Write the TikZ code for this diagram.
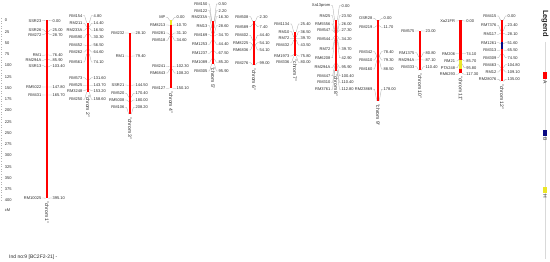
\documentclass[tikz,border=0pt]{standalone}
\usepackage{fontspec}
\setmainfont{Liberation Sans}
\definecolor{hyel}{RGB}{235,230,40}
\definecolor{bnavy}{RGB}{10,10,130}
\definecolor{txt}{RGB}{40,40,40}
\newcount\mkcnt
\tikzset{
  mlab/.style={font=\fontsize{4}{4.5}\selectfont, text=txt, inner sep=0.3pt},
  clab/.style={font=\fontsize{5}{6}\selectfont, text=txt, inner sep=0.3pt, rotate=-90, anchor=west},
  alab/.style={font=\fontsize{4}{4.5}\selectfont, text=txt, inner sep=0.3pt, anchor=west},
  con/.style={draw=gray!70, line width=0.3pt},
  leglab/.style={font=\fontsize{5}{6}\selectfont, text=txt, rotate=-90, anchor=west, inner sep=0pt},
}
\newcommand\mk[4]{%
  \global\advance\mkcnt by 1
  \edef\mkid{m\the\mkcnt}%
  \node[mlab,anchor=east] (\mkid n) at ({#1-5.2},#4) {#2};
  \node[mlab,anchor=west] (\mkid v) at ({#1+5.2},#4) {#3};
  \draw[con] (\mkid n.east) -- ({#1-3.4},#4) -- ({#1-1.3},{20.5+0.45*#3});
  \draw[con] (\mkid v.west) -- ({#1+3.4},#4) -- ({#1+1.3},{20.5+0.45*#3});
}
\newcommand\chrbar[4]{%
  \fill[red] ({#1-1.3},#2) rectangle ({#1+1.3},#3);
  \node[clab] (c#4) at (#1,{#3+3}) {"chrom #4"};
}
\begin{document}
\begin{tikzpicture}[x=1pt,y=-1pt]
\useasboundingbox (0,0) rectangle (550,262);
% axis
\draw[gray!60, line width=0.6pt, dotted] (1.5,18) -- (1.5,201);
\foreach \v in {0,25,...,400} \node[alab] (ax\v) at (4.5,{20.5+0.45*\v}) {\v};
\node[alab] (cm) at (4.5,210) {cM};
% chr1
\chrbar{47}{20.5}{198.3}{1}
\mk{47}{SSR23}{0.00}{20.7}
\mk{47}{SSR26}{25.00}{29.7}
\mk{47}{RM272}{28.70}{34.7}
\mk{47}{RM1}{76.40}{55.3}
\mk{47}{RM294A}{85.90}{60.3}
\mk{47}{SSR13}{103.40}{65.7}
\mk{47}{RM5022}{147.80}{87}
\mk{47}{RM431}{165.70}{95}
\mk{47}{RM10025}{395.10}{198}
% chr2
\chrbar{88}{22.7}{91.9}{2}
\mk{88}{RM154}{4.80}{15.7}
\mk{88}{RM211}{14.40}{23.3}
\mk{88}{RM233A}{16.50}{30.3}
\mk{88}{RM590}{30.30}{37.3}
\mk{88}{RM452}{56.50}{45}
\mk{88}{RM262}{64.60}{52}
\mk{88}{RM561}{74.10}{62}
\mk{88}{RM573}{131.60}{77.7}
\mk{88}{RM525}{143.70}{85.3}
\mk{88}{RM3248}{153.20}{90.7}
\mk{88}{RM250}{158.60}{99.3}
% chr3
\chrbar{130}{33.1}{114.2}{3}
\mk{130}{RM232}{28.10}{33}
\mk{130}{RM1}{79.40}{56}
\mk{130}{SSR21}{144.50}{85}
\mk{130}{RM520}{170.40}{93.3}
\mk{130}{RM5008}{180.00}{100}
\mk{130}{RM106}{208.20}{107.3}
% chr4
\chrbar{171}{20.5}{88.0}{4}
\fill[hyel] (169.7,20.5) rectangle (172.3,25.3);
\mk{171}{MP}{0.00}{17.3}
\mk{171}{RM8213}{10.70}{25}
\mk{171}{RM281}{31.10}{33}
\mk{171}{RM518}{34.60}{40.3}
\mk{171}{RM241}{102.30}{66.3}
\mk{171}{RM6843}{108.20}{73}
\mk{171}{RM127}{150.10}{88.3}
% chr5
\chrbar{213}{20.7}{63.7}{5}
\mk{213}{RM150}{0.50}{4}
\mk{213}{RM122}{2.20}{10.7}
\mk{213}{RM233A}{16.30}{16.7}
\mk{213}{RM13}{28.60}{25.7}
\mk{213}{RM169}{34.70}{34.7}
\mk{213}{RM1253}{44.40}{44.3}
\mk{213}{RM1237}{67.50}{53.3}
\mk{213}{RM1089}{85.20}{62.3}
\mk{213}{RM305}{95.90}{71}
% chr6
\chrbar{254}{21.5}{65.0}{6}
\mk{254}{RM508}{2.30}{16.7}
\mk{254}{RM589}{7.40}{26.7}
\mk{254}{RM402}{44.40}{35.3}
\mk{254}{RM8225}{54.10}{42.7}
\mk{254}{RM6836}{54.10}{50}
\mk{254}{RM276}{99.00}{62.7}
% chr7
\chrbar{295}{32.0}{56.5}{7}
\mk{295}{RM1134}{25.40}{24}
\mk{295}{RM10}{36.50}{31.7}
\mk{295}{RM72}{39.70}{38.3}
\mk{295}{RM432}{43.50}{45}
\mk{295}{RM1973}{75.80}{56}
\mk{295}{RM336}{80.00}{62.3}
% chr8
\chrbar{336}{20.5}{71.3}{8}
\mk{336}{Xa13prom}{0.00}{5.7}
\mk{336}{RM25}{23.50}{15.7}
\mk{336}{RM5556}{26.00}{24}
\mk{336}{RM547}{27.30}{30}
\mk{336}{RM544}{34.20}{39.3}
\mk{336}{RM72}{39.70}{49}
\mk{336}{RM6208}{42.90}{57.7}
\mk{336}{RM294A}{95.90}{67.5}
\mk{336}{RM447}{100.40}{75.7}
\mk{336}{RM310}{110.40}{82.3}
\mk{336}{RM3761}{112.80}{89.3}
% chr9
\chrbar{378}{20.5}{100.6}{9}
\mk{378}{OSR28}{0.00}{18.3}
\mk{378}{RM219}{11.70}{27.3}
\mk{378}{RM342}{78.40}{51.7}
\mk{378}{RM410}{79.30}{60}
\mk{378}{RM160}{88.50}{69}
\mk{378}{RM23869}{178.00}{89.3}
% chr10
\chrbar{420}{30.9}{70.2}{10}
\mk{420}{RM575}{23.00}{31}
\mk{420}{RM1375}{80.80}{52.7}
\mk{420}{RM294A}{87.10}{60}
\mk{420}{RM333}{110.40}{66.7}
% chr11
\chrbar{460.7}{20.5}{73.3}{11}
\fill[hyel] (459.4,60) rectangle (462,69);
\mk{460.7}{Xa21FR}{0.00}{21}
\mk{460.7}{RM206}{74.10}{53.7}
\mk{460.7}{RM21}{85.70}{61}
\mk{460.7}{PTA248}{95.80}{67.7}
\mk{460.7}{RM6293}{117.30}{74.3}
% chr12
\chrbar{502}{20.5}{81.3}{12}
\fill[bnavy] (500.7,41.7) rectangle (503.3,49.3);
\mk{502}{RM415}{0.00}{16}
\mk{502}{RM7376}{23.40}{25.3}
\mk{502}{RM117}{28.10}{34.3}
\mk{502}{RM1261}{51.60}{42.7}
\mk{502}{RM313}{65.50}{50.3}
\mk{502}{RM309}{74.50}{57.7}
\mk{502}{RM463}{104.80}{64.7}
\mk{502}{RM12}{109.10}{72}
\mk{502}{RM28076}{135.00}{79.3}
% legend
\draw[gray!30, line width=0.5pt] (544.8,42) -- (544.8,259);
\node[font=\fontsize{7.5}{8}\selectfont\bfseries, text=txt, rotate=-90, anchor=west, inner sep=0pt] (leg) at (545,10) {Legend};
\fill[red] (542.8,72.5) rectangle (546.8,79);
\fill[bnavy] (542.8,130) rectangle (546.8,136);
\fill[hyel] (542.8,187) rectangle (546.8,193);
\node[leglab] (la) at (545,80.3) {A};
\node[leglab] (lb) at (545,137) {B};
\node[leglab] (lh) at (545,194.5) {H};
% footer
\node[font=\fontsize{5}{6}\selectfont, text=txt, anchor=west, inner sep=0pt] (ind) at (9,257) {Ind no:9 [BC2F2-21] -};
\end{tikzpicture}
\end{document}
